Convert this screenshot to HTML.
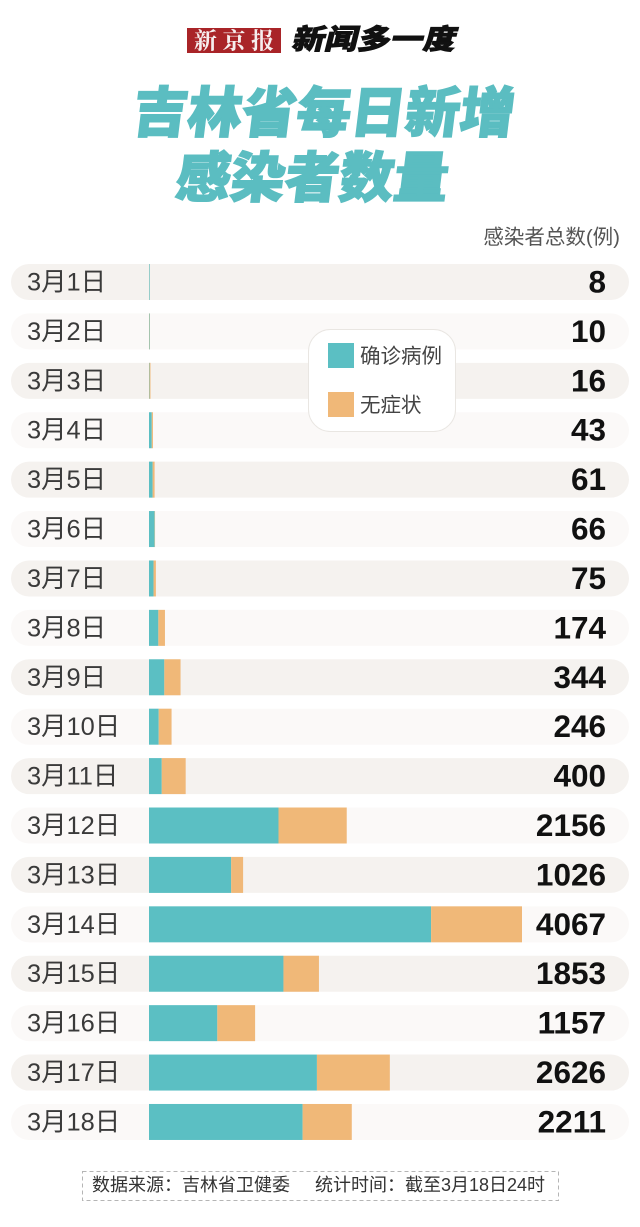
<!DOCTYPE html>
<html lang="zh-CN">
<head>
<meta charset="utf-8">
<title>吉林省每日新增感染者数量</title>
<style>
  html, body { margin: 0; padding: 0; background: #fff; }
  body { width: 640px; height: 1227px; overflow: hidden; }
  svg { display: block; }
  text { font-family: "Liberation Sans", "Noto Sans CJK SC", sans-serif; }
  .cjk-heavy { font-family: "Noto Sans CJK SC", "WenQuanYi Zen Hei", sans-serif; font-weight: 900; }
  .serif { font-family: "Noto Serif CJK SC", "Liberation Serif", serif; font-weight: 700; }
  .note { font-family: "Noto Sans CJK SC", "Liberation Sans", sans-serif; }
</style>
</head>
<body>
<svg id="chart" xmlns="http://www.w3.org/2000/svg" width="640" height="1227" viewBox="0 0 640 1227">
  <rect x="0" y="0" width="640" height="1227" fill="#ffffff"/>

  <g>
    <rect x="187" y="28" width="94" height="25" fill="#a92428"/>
    <text class="serif" x="194" y="48.5" font-size="23" letter-spacing="5.5" fill="#f6eeee">新京报</text>
    <text class="cjk-heavy" x="0" y="0" transform="translate(291 49) scale(1 0.86) skewX(-12)" font-size="32.5" letter-spacing="0.3" fill="#111111" stroke="#111111" stroke-width="1">新闻多一度</text>
  </g>

  <g fill="#5bbdc1" stroke="#5bbdc1" stroke-width="1.5">
    <text class="cjk-heavy" x="0" y="0" transform="translate(131 132) skewX(-7)" font-size="54.5">吉林省每日新增</text>
    <text class="cjk-heavy" x="0" y="0" transform="translate(174 197) skewX(-7)" font-size="54.5">感染者数量</text>
  </g>

  <text x="620" y="244" text-anchor="end" font-size="20.5" fill="#555555">感染者总数(例)</text>

  <g id="rows"></g>

  <g>
    <rect x="308.5" y="329.5" width="147" height="102" rx="22" fill="#ffffff" stroke="#e9e6e2" stroke-width="1"/>
    <rect x="328" y="343" width="26" height="25" fill="#5bbfc3"/>
    <text x="360" y="363" font-size="20.5" fill="#444444">确诊病例</text>
    <rect x="328" y="392" width="26" height="25" fill="#f0b878"/>
    <text x="360" y="412" font-size="20.5" fill="#444444">无症状</text>
  </g>

  <g>
    <rect x="82.5" y="1171.5" width="476" height="29" fill="none" stroke="#b5b5b5" stroke-width="1" stroke-dasharray="4 3"/>
    <text x="92" y="1191" font-size="18" fill="#333333">数据来源&#xFF1A;吉林省卫健委</text>
    <text x="315" y="1191" font-size="18" fill="#333333">统计时间&#xFF1A;截至3月18日24时</text>
  </g>
</svg>

<script>
const dates = ["3月1日","3月2日","3月3日","3月4日","3月5日","3月6日","3月7日","3月8日","3月9日","3月10日","3月11日","3月12日","3月13日","3月14日","3月15日","3月16日","3月17日","3月18日"];
const confirmedCases = [7, 6, 5, 30, 40, 62, 50, 102, 167, 106, 139, 1412, 896, 3076, 1466, 745, 1831, 1675];
const asymptomaticCases = [1, 4, 11, 13, 21, 4, 25, 72, 177, 140, 261, 744, 130, 991, 387, 412, 795, 536];
const totalLabels = ["8","10","16","43","61","66","75","174","344","246","400","2156","1026","4067","1853","1157","2626","2211"];

const NS = "http://www.w3.org/2000/svg";
const plotLeft = 149;
const plotRight = 522;
const domainMax = 4067;
const firstRowTop = 264;
const rowStep = 49.41;
const rowHeight = 36;

function xScale(value) {
  return plotLeft + value / domainMax * (plotRight - plotLeft);
}
function yScale(index) {
  return firstRowTop + index * rowStep;
}
function make(tag, attrs, text) {
  const el = document.createElementNS(NS, tag);
  for (const key in attrs) el.setAttribute(key, attrs[key]);
  if (text !== undefined) el.textContent = text;
  return el;
}

const rowsGroup = document.getElementById("rows");
dates.forEach(function (date, i) {
  const top = yScale(i);

  const group = make("g", {});
  
  

  const track = make("rect", { x: 11, y: top, width: 618, height: rowHeight, rx: 18, fill: i % 2 === 0 ? "#f5f2ef" : "#fbf9f8" });
  
  
  group.appendChild(track);

  const dateLabel = make("text", { x: 27, y: top + 26.5, "font-size": 25.4, fill: "#3a3a3a" }, date);
  
  
  group.appendChild(dateLabel);

  const confirmedEnd = xScale(confirmedCases[i]);
  const totalEnd = xScale(confirmedCases[i] + asymptomaticCases[i]);

  const confirmedBar = make("rect", { x: plotLeft, y: top, width: confirmedEnd - plotLeft, height: rowHeight, fill: "#5bbfc3" });
  
  
  group.appendChild(confirmedBar);

  const asymptomaticBar = make("rect", { x: confirmedEnd, y: top, width: totalEnd - confirmedEnd, height: rowHeight, fill: "#f0b878" });
  
  
  group.appendChild(asymptomaticBar);

  const totalLabel = make("text", { x: 606, y: top + 28.5, "text-anchor": "end", "font-size": 31.5, "font-weight": 700, fill: "#111111" }, totalLabels[i]);
  
  
  group.appendChild(totalLabel);

  rowsGroup.appendChild(group);
});
</script>
</body>
</html>
